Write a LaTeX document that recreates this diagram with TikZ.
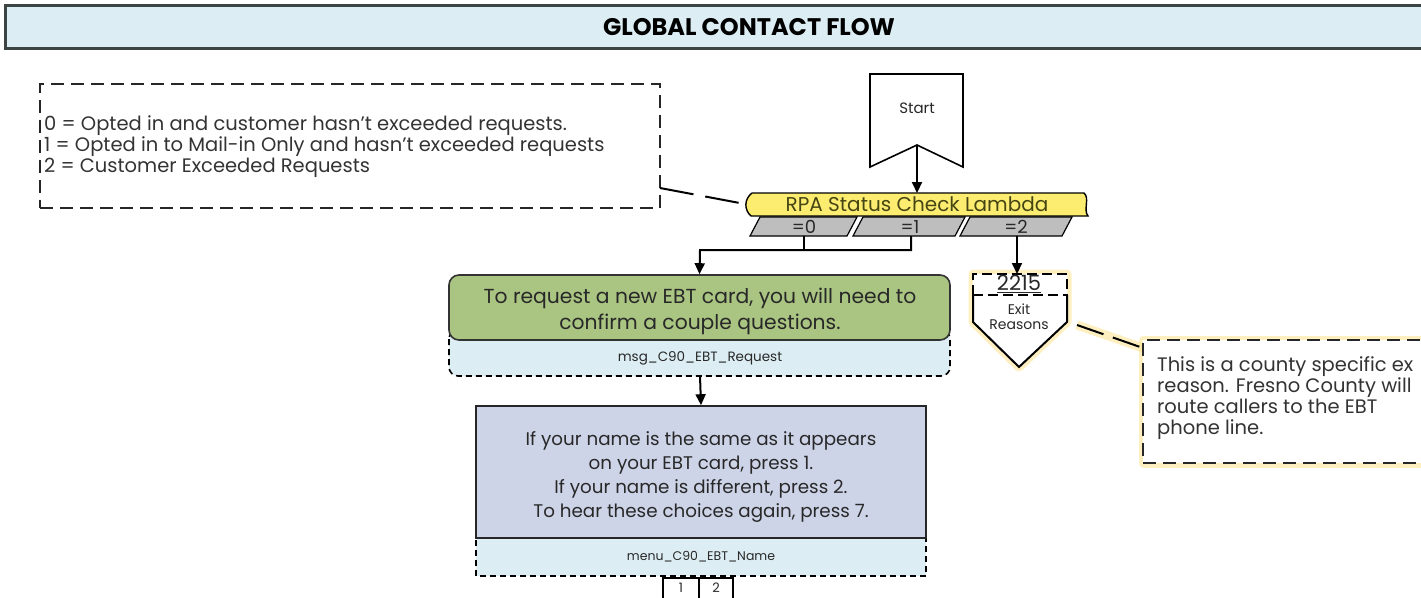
\documentclass[tikz,border=0pt]{standalone}
\usepackage{fontspec}
\setmainfont{Poppins}
\usetikzlibrary{arrows.meta}
\definecolor{titlefill}{RGB}{220,238,244}
\definecolor{titleline}{RGB}{60,68,68}
\definecolor{rpayellow}{RGB}{252,236,112}
\definecolor{rpatext}{RGB}{70,70,20}
\definecolor{paragray}{RGB}{190,190,190}
\definecolor{greenbox}{RGB}{170,196,130}
\definecolor{menufill}{RGB}{205,212,232}
\definecolor{glow}{RGB}{252,228,150}
\definecolor{inktext}{RGB}{40,40,40}
\newcommand{\fs}[2]{\fontsize{#1}{#2}\selectfont}
\tikzset{
  conn/.style={line width=2pt,-{Triangle[length=11pt,width=10pt]}},
  plain/.style={line width=2pt},
  dashbox/.style={line width=2.2pt,dash pattern=on 13pt off 7pt},
  smalldash/.style={line width=1.6pt,dash pattern=on 6pt off 4pt},
  glowline/.style={line width=9pt,glow,opacity=0.6,line join=round},
  txt/.style={inner sep=0pt,text=inktext},
}
\begin{document}
\begin{tikzpicture}[x=1pt,y=-1pt]
\useasboundingbox (0,0) rectangle (1421,597);
\clip (0,0) rectangle (1421,597);
% title bar
\node[draw=titleline,line width=3pt,fill=titlefill,minimum width=1488pt,minimum height=43pt,inner sep=0pt,font=\fs{24}{24}\bfseries] (title) at (749,27) {GLOBAL CONTACT FLOW};
% legend
\node[dashbox,draw=black!85,minimum width=620pt,minimum height=124pt,inner sep=0pt] (legend) at (350,146) {};
\node[txt,anchor=west,align=left,font=\fs{19.5}{21},text=black!80] (legendtext) at (44,147) {0 = Opted in and customer hasn't exceeded requests.\\1 = Opted in to Mail-in Only and hasn't exceeded requests\\2 = Customer Exceeded Requests};
% start
\draw[line width=1.6pt,fill=white] (870,74) -- (963,74) -- (963,167) -- (917,145) -- (870,167) -- cycle;
\node[txt,font=\fs{15}{15}] (start) at (917,108) {Start};
\coordinate (startb) at (917,145);
% RPA bar
\draw[line width=1.4pt,fill=rpayellow] (752,193) -- (1084,193) .. controls (1090,198) and (1083,210) .. (1088,216) -- (751,216) .. controls (744,210) and (744,199) .. cycle;
\node[txt,font=\fs{20}{20},text=rpatext] (rpa) at (917,204.5) {RPA Status Check Lambda};
\coordinate (rpat) at (917,193);
\draw[conn] (startb) -- (rpat);
% legend callout
\coordinate (legc) at (660,188);
\draw[line width=2pt,dash pattern=on 34pt off 12pt] (legc) -- (745,204);
% parallelograms
\draw[line width=1.2pt,fill=paragray] (760,217) -- (857,217) -- (847,236) -- (750,236) -- cycle;
\draw[line width=1.2pt,fill=paragray] (863,217) -- (965,217) -- (955,236) -- (853,236) -- cycle;
\draw[line width=1.2pt,fill=paragray] (970,217) -- (1072,217) -- (1062,236) -- (960,236) -- cycle;
\node[txt,font=\fs{18}{18}] (p0) at (804,227) {=0};
\node[txt,font=\fs{18}{18}] (p1) at (910,227) {=1};
\node[txt,font=\fs{18}{18}] (p2) at (1016,227) {=2};
\coordinate (p0b) at (804,236);
\coordinate (p1b) at (911,236);
\coordinate (p2b) at (1017,236);
\coordinate (join) at (700,250);
% exit reasons pentagon with glow
\draw[glowline] (973,274) -- (1067,274) -- (1067,322) -- (1019,367) -- (973,322) -- cycle;
\draw[glowline] (1077,325) -- (1143,348);
\draw[glowline] (1143,340) -- (1440,340) -- (1440,463) -- (1143,463) -- cycle;
\fill[white] (973,274) -- (1067,274) -- (1067,322) -- (1019,367) -- (973,322) -- cycle;
\draw[line width=2pt,dash pattern=on 10pt off 5pt] (973,295) -- (973,274) -- (1067,274) -- (1067,295);
\draw[line width=2pt,dash pattern=on 10pt off 5pt] (973,295) -- (1067,295);
\draw[line width=2pt,line join=miter] (973,295) -- (973,322) -- (1019,367) -- (1067,322) -- (1067,295);
\node[txt,font=\fs{21}{21}] (code) at (1019,284) {\underline{2215}};
\node[txt,font=\fs{14}{15},align=center] (exitr) at (1019,317) {Exit\\Reasons};
\coordinate (exitt) at (1017,274);
\draw[conn] (p2b) -- (exitt);
% comment box
\node[dashbox,draw=black!85,fill=white,minimum width=297pt,minimum height=123pt,inner sep=0pt] (comment) at (1291.5,401.5) {};
\node[txt,anchor=west,align=left,font=\fs{19.5}{21},text=black!80] (commenttext) at (1157,398) {This is a county specific ex\\reason. Fresno County will\\route callers to the EBT\\phone line.};
\coordinate (exitc) at (1077,325);
\draw[line width=2pt,dash pattern=on 28pt off 10pt] (exitc) -- (1143,348);
% green message box
\draw[smalldash,fill=titlefill,rounded corners=9pt] (449,330) rectangle (950,376);
\node[draw=black!80,line width=1.6pt,fill=greenbox,rounded corners=10pt,minimum width=501pt,minimum height=65pt,inner sep=0pt] (msg) at (699.5,307.5) {};
\node[txt,align=center,font=\fs{20.3}{26}] (msgtext) at (700,311) {To request a new EBT card, you will need to\\confirm a couple questions.};
\node[txt,font=\fs{13.5}{13.5}] (msgid) at (700,358) {msg\_C90\_EBT\_Request};
\coordinate (msgb) at (700,376);
% connectors to green
\draw[plain] (p0b) -- (804,250);
\draw[conn] (p1b) |- (join) -- (msg.north);
% menu
\draw[smalldash,fill=titlefill] (476,530) rectangle (926,576);
\node[draw=black!85,line width=1.6pt,fill=menufill,minimum width=450pt,minimum height=132pt,inner sep=0pt] (menu) at (701,472) {};
\node[txt,align=center,font=\fs{18.3}{24}] (menutext) at (701,477) {If your name is the same as it appears\\on your EBT card, press 1.\\If your name is different, press 2.\\To hear these choices again, press 7.};
\node[txt,font=\fs{12.5}{12.5}] (menuid) at (701,557) {menu\_C90\_EBT\_Name};
\draw[conn] (msgb) -- (menu.north);
% option boxes
\node[draw=black,line width=2pt,minimum width=36pt,minimum height=40pt,inner sep=0pt] (opt1) at (681,598) {};
\node[draw=black,line width=2pt,minimum width=34pt,minimum height=40pt,inner sep=0pt] (opt2) at (716,598) {};
\node[txt,font=\fs{13}{13}] (o1) at (681,588) {1};
\node[txt,font=\fs{13}{13}] (o2) at (716,588) {2};
\end{tikzpicture}
\end{document}
